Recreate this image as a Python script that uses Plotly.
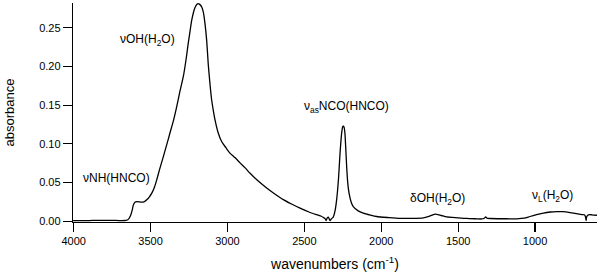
import plotly.graph_objects as go

# Spectrum
wavenumber = [4004, 3950, 3900, 3850, 3800, 3750, 3700, 3660, 3645, 3630, 3620, 3612, 3600, 3590,
              3570, 3558, 3540, 3525, 3510, 3493, 3475, 3460, 3440, 3417, 3395, 3374, 3350, 3330,
              3310, 3287, 3270, 3255, 3243, 3233, 3222, 3211, 3200, 3190, 3183, 3175, 3166,
              3157, 3146, 3135, 3125, 3114, 3103, 3092, 3081, 3060, 3038, 3010, 2984, 2950,
              2918, 2885, 2853, 2800, 2745, 2690, 2637, 2580, 2528, 2470, 2420, 2390, 2377,
              2365, 2359, 2352, 2344, 2338, 2333, 2325, 2312, 2300, 2290, 2278, 2268, 2258,
              2250, 2246, 2241, 2236, 2231, 2225, 2218, 2210, 2196, 2182, 2150, 2117, 2070,
              2030, 1950, 1878, 1800, 1726, 1690, 1650, 1610, 1574, 1500, 1444, 1380, 1347,
              1330, 1321, 1312, 1293, 1200, 1119, 1070, 1033, 990, 946, 900, 859, 820, 773,
              730, 696, 680, 672, 668, 664, 653, 630, 597]
absorbance = [0.0008, 0.0009, 0.0010, 0.0012, 0.0013, 0.0012, 0.0010, 0.0012, 0.0025, 0.0075, 0.0140, 0.0210,
              0.0248, 0.0255, 0.0250, 0.0247, 0.0255, 0.0277, 0.0310, 0.0360, 0.0440, 0.0535, 0.0680,
              0.0835, 0.0990, 0.1140, 0.1310, 0.1480, 0.1670, 0.1870, 0.2080, 0.2300, 0.2460, 0.2590,
              0.2690, 0.2760, 0.2800, 0.2810, 0.2805, 0.2790, 0.2760, 0.2700, 0.2550, 0.2330, 0.2030,
              0.1780, 0.1570, 0.1430, 0.1310, 0.1140, 0.1030, 0.0950, 0.0880, 0.0820, 0.0755, 0.0690,
              0.0620, 0.0520, 0.0430, 0.0350, 0.0280, 0.0220, 0.0170, 0.0120, 0.0085, 0.0065, 0.0050,
              0.0035, 0.0010, 0.0040, 0.0055, 0.0030, 0.0010, 0.0030, 0.0055, 0.0140, 0.0280, 0.0550,
              0.0880, 0.1130, 0.1225, 0.1230, 0.1210, 0.1130, 0.0950, 0.0710, 0.0500, 0.0370, 0.0250,
              0.0190, 0.0135, 0.0106, 0.0080, 0.0062, 0.0048, 0.0038, 0.0038, 0.0045, 0.0065, 0.0093,
              0.0075, 0.0056, 0.0045, 0.0037, 0.0032, 0.0030, 0.0040, 0.0058, 0.0040, 0.0036, 0.0033,
              0.0032, 0.0040, 0.0062, 0.0085, 0.0106, 0.0120, 0.0126, 0.0124, 0.0113, 0.0098, 0.0086,
              0.0084, 0.0060, 0.0010, 0.0060, 0.0084, 0.0084, 0.0078, 0.0080]

x_ticks = [4000, 3500, 3000, 2500, 2000, 1500, 1000]
y_ticks = [0.00, 0.05, 0.10, 0.15, 0.20, 0.25]

labels = ["νOH(H<sub>2</sub>O)", "νNH(HNCO)", "ν<sub>as</sub>NCO(HNCO)", "δOH(H<sub>2</sub>O)", "ν<sub>L</sub>(H<sub>2</sub>O)"]
label_x = [3517, 3722, 2223, 1634, 886]
label_y = [0.234, 0.056, 0.1475, 0.029, 0.0329]

FONT = "Liberation Sans, Arial, sans-serif"

fig = go.Figure()
fig.add_trace(go.Scatter(x=wavenumber, y=absorbance, mode="lines",
                         line=dict(color="black", width=1.3, shape="spline", smoothing=0.6),
                         showlegend=False, hoverinfo="skip"))

for t, xx, yy in zip(labels, label_x, label_y):
    fig.add_annotation(x=xx, y=yy, xref="x", yref="y", text=t, showarrow=False,
                       font=dict(family=FONT, size=12, color="black"))

fig.update_layout(
    width=600, height=273,
    margin=dict(l=73, r=3, t=3, b=51),
    paper_bgcolor="white", plot_bgcolor="white",
    font=dict(family=FONT, color="black"),
    xaxis=dict(range=[4004.5, 597], tickvals=x_ticks, ticktext=[str(v) for v in x_ticks],
               showgrid=False, zeroline=False, showline=True, linecolor="black", linewidth=1.2,
               ticks="outside", ticklen=9, tickwidth=1.2, tickcolor="black",
               tickfont=dict(family=FONT, size=11, color="black"),
               title=dict(text="wavenumbers (cm<sup>-1</sup>)", font=dict(family=FONT, size=14, color="black"), standoff=12)),
    yaxis=dict(range=[-0.0009, 0.2819], tickvals=y_ticks, ticktext=[f"{v:.2f}" for v in y_ticks],
               showgrid=False, zeroline=False, showline=True, linecolor="black", linewidth=1.2,
               ticks="outside", ticklen=9, tickwidth=1.2, tickcolor="black",
               tickfont=dict(family=FONT, size=11, color="black"),
               title=dict(text="absorbance", font=dict(family=FONT, size=13, color="black"), standoff=21)),
)

fig.write_html("out.html", config={"displayModeBar": False, "staticPlot": True},
               post_script="document.body.style.margin='0';document.body.style.overflow='hidden';")
